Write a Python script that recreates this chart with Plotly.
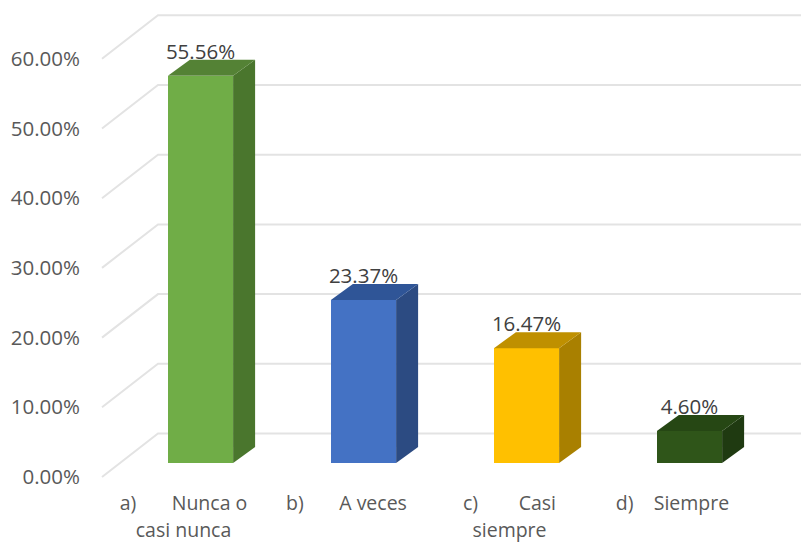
import plotly.graph_objects as go

nb = "\u00a0"
categories = ["a)" + nb * 7 + "Nunca o<br>casi nunca", "b)" + nb * 7 + "A veces",
              "c)" + nb * 8 + "Casi<br>siempre", "d)" + nb * 4 + "Siempre"]
values = [55.56, 23.37, 16.47, 4.60]
labels = ["55.56%", "23.37%", "16.47%", "4.60%"]
y_ticks = [0, 10, 20, 30, 40, 50, 60]
y_tick_labels = ["0.00%", "10.00%", "20.00%", "30.00%", "40.00%", "50.00%", "60.00%"]
front = ["#70AD47", "#4472C4", "#FFC000", "#2F5519"]
side = ["#4A762D", "#2C4B82", "#A98000", "#1F3A11"]
top = ["#548235", "#2F5597", "#BF9000", "#264714"]

W, H = 801, 543
L, B = 81, 55
PX_PER_X = 163.0
PX_PER_Y = 6.97
X0_PX = 200.5
BAR_BASE_PX = 463
LABEL_BASE_PX = 477
BACK_BASE_PX = 433.5

x_of = lambda px: (px - X0_PX) / PX_PER_X
half = 0.2
dx = 22 / PX_PER_X
dy = 16 / PX_PER_Y
positions = list(range(len(values)))

fig = go.Figure()

back_dy = (LABEL_BASE_PX - BACK_BASE_PX) / PX_PER_Y
for t in y_ticks:
    fig.add_trace(go.Scatter(
        x=[x_of(102), x_of(158), x_of(W)], y=[t, t + back_dy, t + back_dy],
        mode="lines", line=dict(color="#E3E3E3", width=2),
        yaxis="y", showlegend=False, hoverinfo="skip"))

fig.add_trace(go.Bar(x=positions, y=values, width=2 * half, marker=dict(color=front, line=dict(width=0)),
                     yaxis="y2", showlegend=False, hoverinfo="skip"))

for i, v in enumerate(values):
    fig.add_trace(go.Scatter(
        x=[i + half, i + half + dx, i + half + dx, i + half, i + half],
        y=[0, dy, v + dy, v, 0], fill="toself", fillcolor=side[i], mode="none",
        yaxis="y2", showlegend=False, hoverinfo="skip"))
    fig.add_trace(go.Scatter(
        x=[i - half, i + half, i + half + dx, i - half + dx, i - half],
        y=[v, v, v + dy, v + dy, v], fill="toself", fillcolor=top[i], mode="none",
        yaxis="y2", showlegend=False, hoverinfo="skip"))

fig.add_trace(go.Scatter(
    x=positions, y=[v + 22 / PX_PER_Y for v in values], text=labels, mode="text",
    textposition="middle center", textfont=dict(size=20.5, color="#404040"),
    yaxis="y2", showlegend=False, hoverinfo="skip"))

plot_bottom = H - B
fig.update_layout(
    width=W, height=H, autosize=False,
    margin=dict(l=L, r=0, t=0, b=B),
    paper_bgcolor="white", plot_bgcolor="white",
    font=dict(family="Open Sans, sans-serif", color="#595959"),
    bargap=0,
    xaxis=dict(
        automargin=False,
        range=[x_of(L), x_of(W)], showgrid=False, zeroline=False, showline=False,
        tickmode="array", tickvals=[p - 17 / PX_PER_X for p in positions],
        ticktext=['<span style="font-size:19.5px">' + c.replace("<br>", '</span><br><span style="font-size:19.5px">') + "</span>"
                  for c in categories],
        tickangle=0, ticks="", tickfont=dict(size=21, color="#595959")),
    yaxis=dict(
        automargin=False,
        range=[(LABEL_BASE_PX - plot_bottom) / PX_PER_Y, LABEL_BASE_PX / PX_PER_Y],
        tickmode="array", tickvals=y_ticks, ticktext=y_tick_labels,
        showgrid=False, zeroline=False, showline=False, ticks="",
        tickfont=dict(size=20.5, color="#595959")),
    yaxis2=dict(
        automargin=False,
        range=[(BAR_BASE_PX - plot_bottom) / PX_PER_Y, BAR_BASE_PX / PX_PER_Y],
        overlaying="y", visible=False, showgrid=False, zeroline=False),
)
fig.write_html("out.html", config={"displayModeBar": False},
               post_script="document.body.style.margin='0';")
